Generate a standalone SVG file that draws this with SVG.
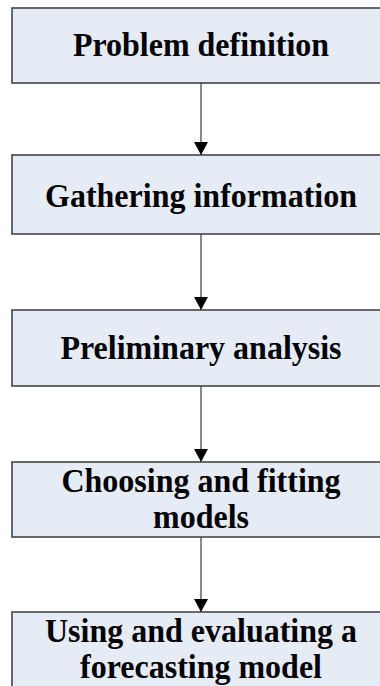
<svg xmlns="http://www.w3.org/2000/svg" width="380" height="686" viewBox="0 0 380 686">
  <style>
    .box { fill: #E5ECF6; stroke: #3a3a3a; stroke-width: 1.5; }
    .label { font-family: "Liberation Serif", "Times New Roman", serif; font-weight: bold; font-size: 32px; fill: #000; text-anchor: middle; }
    .edge { stroke: #3a3a3a; stroke-width: 1.2; fill: none; marker-end: url(#arrow); }
  </style>
  <defs>
    <marker id="arrow" markerUnits="userSpaceOnUse" markerWidth="14" markerHeight="14" refX="13" refY="7" orient="auto">
      <path d="M0,0 L13,7 L0,14 Z" fill="#000"/>
    </marker>
  </defs>

  <rect width="380" height="686" fill="#fff"/>

  <g id="connectors">
    <line class="edge" x1="201" y1="83" x2="201" y2="155"/>
    <line class="edge" x1="201" y1="234" x2="201" y2="310"/>
    <line class="edge" x1="201" y1="386" x2="201" y2="462"/>
    <line class="edge" x1="201" y1="537" x2="201" y2="612"/>
  </g>

  <g id="problem-definition">
    <rect class="box" x="12" y="8" width="380" height="75"/>
    <text class="label" transform="translate(201,56) scale(1,1.08)">Problem definition</text>
  </g>

  <g id="gathering-information">
    <rect class="box" x="12" y="155" width="380" height="79"/>
    <text class="label" transform="translate(201,207) scale(1,1.08)">Gathering information</text>
  </g>

  <g id="preliminary-analysis">
    <rect class="box" x="12" y="310" width="380" height="76"/>
    <text class="label" transform="translate(201,359) scale(1,1.08)">Preliminary analysis</text>
  </g>

  <g id="choosing-fitting-models">
    <rect class="box" x="12" y="462" width="380" height="75"/>
    <text class="label" transform="translate(201,492) scale(1,1.08)">Choosing and fitting</text>
    <text class="label" transform="translate(201,528) scale(1,1.08)">models</text>
  </g>

  <g id="forecasting-model">
    <rect class="box" x="12" y="612" width="380" height="90"/>
    <text class="label" transform="translate(201,642) scale(1,1.08)">Using and evaluating a</text>
    <text class="label" transform="translate(201,678) scale(1,1.08)">forecasting model</text>
  </g>
</svg>
